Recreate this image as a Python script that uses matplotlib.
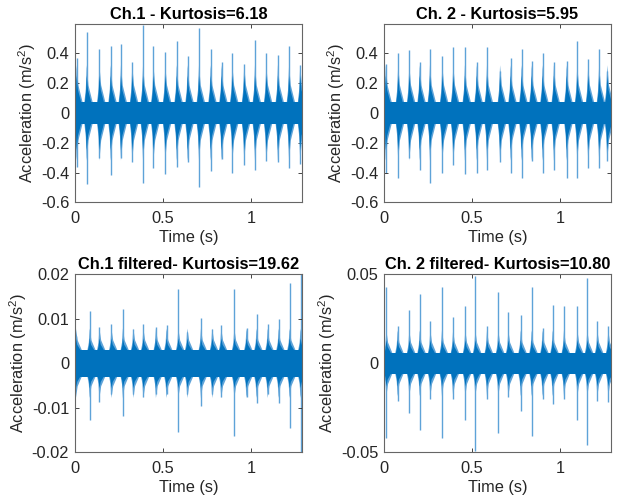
import matplotlib
matplotlib.use("Agg")
import matplotlib.pyplot as plt
from matplotlib.ticker import FuncFormatter

plt.rcParams["font.family"] = ["Liberation Sans", "DejaVu Sans"]
plt.rcParams["mathtext.fontset"] = "custom"
plt.rcParams["mathtext.rm"] = "Liberation Sans"
plt.rcParams["axes.unicode_minus"] = False

BLUE = "#0072BD"
LIGHT = "#5ea3d8"
T_END = 1.285
XMAX = 1.289
FS = 11.8

# ---- data: impulse times, peak up / peak down ----
ch1_t = [0.011, 0.068, 0.140, 0.204, 0.262, 0.326, 0.387, 0.446, 0.513, 0.578, 0.640,
         0.704, 0.770, 0.832, 0.893, 0.960, 1.021, 1.085, 1.151, 1.214, 1.277]
ch1_up = [0.37, 0.54, 0.43, 0.45, 0.46, 0.34, 0.59, 0.45, 0.41, 0.48, 0.38,
          0.57, 0.43, 0.34, 0.40, 0.33, 0.49, 0.40, 0.39, 0.45, 0.32]
ch1_dn = [-0.36, -0.48, -0.30, -0.42, -0.30, -0.33, -0.47, -0.37, -0.41, -0.36, -0.33,
          -0.50, -0.39, -0.31, -0.40, -0.35, -0.38, -0.32, -0.33, -0.37, -0.34]

ch2_t = [0.012, 0.082, 0.145, 0.204, 0.262, 0.332, 0.394, 0.460, 0.527, 0.585, 0.659,
         0.719, 0.781, 0.838, 0.900, 0.964, 1.036, 1.096, 1.158, 1.220, 1.266]
ch2_up = [0.33, 0.40, 0.42, 0.34, 0.43, 0.38, 0.44, 0.44, 0.34, 0.44, 0.28,
          0.37, 0.43, 0.35, 0.40, 0.34, 0.35, 0.48, 0.36, 0.43, 0.28]
ch2_dn = [-0.40, -0.44, -0.30, -0.38, -0.47, -0.40, -0.35, -0.41, -0.40, -0.38, -0.33,
          -0.40, -0.44, -0.32, -0.40, -0.38, -0.44, -0.44, -0.37, -0.37, -0.32]

f1_t = [0.007, 0.085, 0.140, 0.208, 0.273, 0.332, 0.389, 0.460, 0.520, 0.587, 0.638,
        0.715, 0.779, 0.830, 0.904, 0.973, 1.030, 1.093, 1.155, 1.217, 1.279]
f1_up = [0.0062, 0.0117, 0.0081, 0.0089, 0.0121, 0.0077, 0.0089, 0.0081, 0.0085, 0.0168, 0.0070,
         0.0102, 0.0077, 0.0085, 0.0168, 0.0080, 0.0110, 0.0089, 0.0100, 0.0181, 0.0300]
f1_dn = [-0.0036, -0.0127, -0.0086, -0.0070, -0.0118, -0.0070, -0.0075, -0.0070, -0.0070, -0.0154, -0.0070,
         -0.0097, -0.0070, -0.0075, -0.0163, -0.0075, -0.0090, -0.0068, -0.0090, -0.0145, -0.0300]

f2_t = [0.015, 0.079, 0.145, 0.204, 0.264, 0.330, 0.393, 0.462, 0.519, 0.585, 0.649,
        0.706, 0.776, 0.838, 0.900, 0.957, 1.021, 1.097, 1.153, 1.210, 1.272]
f2_up = [0.043, 0.021, 0.030, 0.039, 0.024, 0.043, 0.026, 0.032, 0.049, 0.021, 0.040,
         0.029, 0.027, 0.043, 0.020, 0.033, 0.032, 0.032, 0.048, 0.024, 0.021]
f2_dn = [-0.042, -0.021, -0.028, -0.0375, -0.020, -0.042, -0.020, -0.032, -0.049, -0.020, -0.039,
         -0.019, -0.027, -0.041, -0.020, -0.023, -0.020, -0.032, -0.046, -0.021, -0.022]

# noise band / burst levels (base band, dense burst, light burst)
ch1_lv = (0.075, 0.25, 0.32)
ch2_lv = (0.075, 0.25, 0.32)
f1_lv = (0.0030, 0.0056, 0.0078)
f2_lv = (0.0060, 0.0130, 0.0185)

titles = ["Ch.1 - Kurtosis=6.18", "Ch. 2 - Kurtosis=5.95",
          "Ch.1 filtered- Kurtosis=19.62", "Ch. 2 filtered- Kurtosis=10.80"]
ylims = [(-0.6, 0.595), (-0.6, 0.595), (-0.02, 0.02), (-0.05, 0.05)]
yticks = [[-0.6, -0.4, -0.2, 0, 0.2, 0.4], [-0.6, -0.4, -0.2, 0, 0.2, 0.4],
          [-0.02, -0.01, 0, 0.01, 0.02], [-0.05, 0, 0.05]]
xticks = [0, 0.5, 1]


def burst(t, base, level, rise, decay):
    # spindle outline around one impact (sharp peak, concave flanks)
    h = level - base
    xs = [t - rise, t - rise * 0.4, t, t + decay * 0.3, t + decay]
    ys = [base, base + h * 0.35, level, base + h * 0.45, base]
    top = list(zip(xs, ys))
    bot = [(x, -y) for x, y in reversed(top)]
    pts = top + bot
    return [p[0] for p in pts], [p[1] for p in pts]


def draw_signal(ax, times, up, dn, lv):
    base, dark, light = lv
    ax.vlines(times, dn, up, color=LIGHT, lw=1.0, zorder=1)
    for t in times:
        xs, ys = burst(t, base, light, 0.013, 0.033)
        ax.fill(xs, ys, color=LIGHT, lw=0, zorder=2)
    ax.fill_between([0, T_END], -base, base, color=BLUE, lw=0, zorder=3)
    for t in times:
        xs, ys = burst(t, base, dark, 0.010, 0.025)
        ax.fill(xs, ys, color=BLUE, lw=0, zorder=3)


fig = plt.figure(figsize=(6.31, 4.99), dpi=100)
positions = [(0.1184, 0.5946, 0.3607, 0.3567), (0.6081, 0.5946, 0.3607, 0.3567),
             (0.1184, 0.0936, 0.3607, 0.3567), (0.6081, 0.0936, 0.3607, 0.3567)]
series = [(ch1_t, ch1_up, ch1_dn, ch1_lv), (ch2_t, ch2_up, ch2_dn, ch2_lv),
          (f1_t, f1_up, f1_dn, f1_lv), (f2_t, f2_up, f2_dn, f2_lv)]

fmt = FuncFormatter(lambda v, p: f"{v:g}")
for pos, (t, u, d, lv), title, yl, yt in zip(positions, series, titles, ylims, yticks):
    ax = fig.add_axes(pos)
    draw_signal(ax, t, u, d, lv)
    ax.set_xlim(0, XMAX)
    ax.set_ylim(*yl)
    ax.set_xticks(xticks)
    ax.set_yticks(yt)
    ax.xaxis.set_major_formatter(fmt)
    ax.yaxis.set_major_formatter(fmt)
    ax.tick_params(direction="in", top=True, right=True, length=3, width=0.6,
                   colors="#262626", labelsize=FS)
    ax.tick_params(axis="x", pad=6.5)
    ax.tick_params(axis="y", pad=4.0)
    for sp in ax.spines.values():
        sp.set_color("#666666")
        sp.set_linewidth(0.8)
        sp.set_zorder(5)
    ax.set_title(title, fontsize=FS, fontweight="bold", pad=4)
    ax.set_xlabel("Time (s)", fontsize=FS, labelpad=3, color="#262626")
    ax.set_ylabel(r"Acceleration (m/s$^{\mathrm{2}}$)", fontsize=FS, labelpad=2, color="#262626")

fig.savefig("out.png", dpi=100)
